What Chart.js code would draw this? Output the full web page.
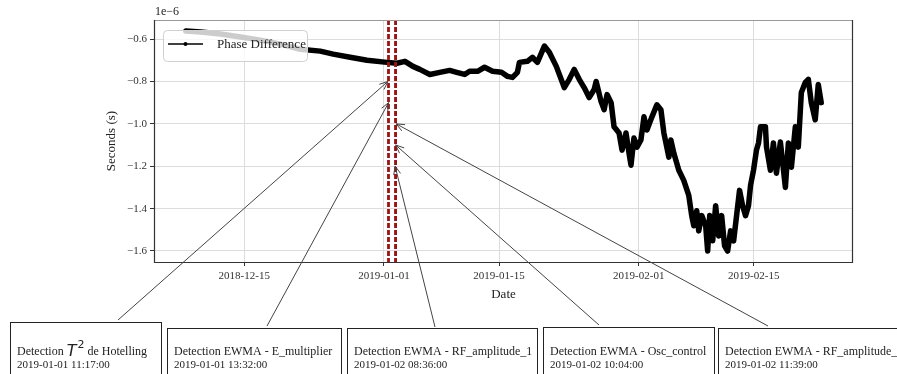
<!DOCTYPE html>
<html>
<head>
<meta charset="utf-8">
<script src="https://cdn.jsdelivr.net/npm/chart.js@4/dist/chart.umd.min.js"></script>
<style>
html, body { margin: 0; padding: 0; background: #fff; }
#wrap { width: 897px; height: 374px; }
</style>
</head>
<body>
<div id="wrap"><canvas id="myChart" width="897" height="374"></canvas></div>
<script>
// days relative to 2019-01-01 00:00 (UTC)
const dayOffsets = [
  -24.12, -22.30, -19.88, -17.45, -15.03, -12.61, -10.18, -7.76, -6.18, -4.12,
  -2.06, 0.36, 1.58, 2.55, 3.52, 4.36, 5.58, 6.79, 8.00, 8.85,
  9.82, 10.42, 11.39, 12.24, 13.21, 14.30, 15.03, 15.64, 16.24, 16.48,
  17.45, 18.06, 18.67, 19.52, 20.12, 20.97, 21.94, 22.55, 23.15, 23.76,
  24.36, 24.97, 25.58, 25.82, 26.42, 26.79, 27.15, 27.64, 28.00, 28.61,
  28.97, 29.45, 29.82, 30.06, 30.42, 30.79, 31.27, 31.64, 32.00, 32.61,
  33.21, 33.70, 34.06, 34.67, 34.91, 35.27, 35.88, 36.48, 37.09, 37.45,
  37.70, 38.06, 38.30, 38.67, 39.15, 39.39, 39.64, 40.00, 40.36, 40.73,
  41.09, 41.45, 41.82, 42.18, 42.55, 42.91, 43.27, 43.64, 44.00, 44.36,
  44.61, 44.97, 45.33, 45.58, 45.82, 46.42, 46.55, 47.03, 47.39, 47.76,
  48.24, 48.85, 49.21, 49.58, 50.06, 50.42, 50.79, 51.27, 51.64, 52.00,
  52.48, 52.85, 53.21
];

// phase difference, in units of 1e-6 s
const phaseDiff = [
  -0.562, -0.567, -0.576, -0.590, -0.605, -0.624, -0.648, -0.657, -0.671, -0.686,
  -0.700, -0.710, -0.714, -0.705, -0.729, -0.743, -0.767, -0.757, -0.748, -0.757,
  -0.767, -0.752, -0.752, -0.733, -0.752, -0.757, -0.776, -0.781, -0.757, -0.710,
  -0.705, -0.686, -0.710, -0.633, -0.662, -0.729, -0.829, -0.790, -0.743, -0.790,
  -0.829, -0.876, -0.838, -0.800, -0.895, -0.933, -0.862, -0.900, -1.014, -1.043,
  -1.124, -1.043, -1.138, -1.195, -1.067, -1.110, -1.076, -0.967, -1.029, -0.967,
  -0.910, -0.933, -1.043, -1.157, -1.076, -1.138, -1.219, -1.267, -1.338, -1.433,
  -1.481, -1.410, -1.505, -1.433, -1.481, -1.600, -1.433, -1.552, -1.386, -1.529,
  -1.433, -1.576, -1.600, -1.505, -1.552, -1.433, -1.314, -1.386, -1.433, -1.386,
  -1.290, -1.219, -1.124, -1.090, -1.014, -1.014, -1.110, -1.219, -1.090, -1.233,
  -1.086, -1.300, -1.090, -1.205, -1.014, -1.110, -0.852, -0.805, -0.790, -0.900,
  -0.981, -0.814, -0.900
];

const xTickLabels = ['2018-12-15', '2019-01-01', '2019-01-15', '2019-02-01', '2019-02-15'];
const yTickValues = [-1.6, -1.4, -1.2, -1.0, -0.8, -0.6];

const detectionNames = [
  'Hotelling',
  'Detection EWMA - E_multiplier',
  'Detection EWMA - RF_amplitude_1',
  'Detection EWMA - Osc_control',
  'Detection EWMA - RF_amplitude_2'
];
const detectionTimes = [
  '2019-01-01 11:17:00',
  '2019-01-01 13:32:00',
  '2019-01-02 08:36:00',
  '2019-01-02 10:04:00',
  '2019-01-02 11:39:00'
];
const arrowTargets = [-0.8, -0.9, -1.2, -1.1, -1.0];

// where the annotation boxes sit on the figure
const boxLayout = [
  { x: 10, y: 322, w: 151, tail: [118, 320] },
  { x: 167, y: 328, w: 174, tail: [267, 326] },
  { x: 347, y: 328, w: 190, tail: [435, 327] },
  { x: 543, y: 327, w: 171, tail: [599, 325] },
  { x: 718, y: 328, w: 200, tail: [768, 326] }
];

const FONT = '"Liberation Serif", serif';
Chart.defaults.font.family = FONT;
Chart.defaults.color = '#222';

const toMs = s => Date.parse(s.replace(' ', 'T') + 'Z');
const DAY = 86400000;
const base = toMs('2019-01-01 00:00:00');

const points = dayOffsets.map((d, i) => ({ x: base + d * DAY, y: phaseDiff[i] }));

// matplotlib style 5% margins
const xs = points.map(p => p.x), ys = phaseDiff;
const xPad = (Math.max(...xs) - Math.min(...xs)) * 0.05;
const yPad = (Math.max(...ys) - Math.min(...ys)) * 0.05;

const fmtMinus = v => (v < 0 ? '\u2212' : '') + Math.abs(v).toFixed(1);

function arrow(ctx, x0, y0, x1, y1) {
  ctx.beginPath();
  ctx.moveTo(x0, y0);
  ctx.lineTo(x1, y1);
  ctx.stroke();
  const ang = Math.atan2(y1 - y0, x1 - x0);
  const L = 9, spread = 0.4;
  ctx.beginPath();
  ctx.moveTo(x1 - L * Math.cos(ang - spread), y1 - L * Math.sin(ang - spread));
  ctx.lineTo(x1, y1);
  ctx.lineTo(x1 - L * Math.cos(ang + spread), y1 - L * Math.sin(ang + spread));
  ctx.stroke();
}

const overlay = {
  id: 'overlay',
  afterDatasetsDraw(chart) {
    const { ctx, chartArea: a, scales: { x } } = chart;
    ctx.save();

    // detection lines
    ctx.strokeStyle = '#a01212';
    ctx.lineWidth = 1.8;
    ctx.setLineDash([5, 2]);
    detectionTimes.forEach(t => {
      const px = Math.round(x.getPixelForValue(toMs(t)));
      ctx.beginPath();
      ctx.moveTo(px, a.top);
      ctx.lineTo(px, a.bottom);
      ctx.stroke();
    });
    ctx.setLineDash([]);

    // frame
    ctx.lineWidth = 1.2;
    ctx.strokeStyle = '#999';
    ctx.beginPath();
    ctx.moveTo(a.left, a.top + 0.5);
    ctx.lineTo(a.right, a.top + 0.5);
    ctx.stroke();
    ctx.strokeStyle = '#333';
    ctx.beginPath();
    ctx.moveTo(a.left + 0.5, a.top);
    ctx.lineTo(a.left + 0.5, a.bottom + 0.5);
    ctx.lineTo(a.right - 0.5, a.bottom + 0.5);
    ctx.lineTo(a.right - 0.5, a.top);
    ctx.stroke();

    // legend
    const lx = a.left + 9, ly = a.top + 10, lw = 144, lh = 31;
    ctx.fillStyle = 'rgba(255,255,255,0.8)';
    ctx.strokeStyle = '#d0d0d0';
    ctx.lineWidth = 1;
    ctx.beginPath();
    ctx.roundRect(lx + 0.5, ly + 0.5, lw, lh, 4);
    ctx.fill();
    ctx.stroke();
    ctx.strokeStyle = '#000';
    ctx.lineWidth = 1.5;
    ctx.beginPath();
    ctx.moveTo(lx + 5, ly + 14);
    ctx.lineTo(lx + 40, ly + 14);
    ctx.stroke();
    ctx.fillStyle = '#000';
    ctx.beginPath();
    ctx.arc(lx + 22.5, ly + 14, 2, 0, Math.PI * 2);
    ctx.fill();
    ctx.fillStyle = '#222';
    ctx.font = '13px ' + FONT;
    ctx.textBaseline = 'middle';
    ctx.fillText('Phase Difference', lx + 54, ly + 15);

    // offset text
    ctx.font = '12px ' + FONT;
    ctx.textBaseline = 'alphabetic';
    ctx.fillText('1e\u22126', a.left + 1, a.top - 5);
    ctx.restore();
  },
  afterDraw(chart) {
    const { ctx, scales: { x, y } } = chart;
    ctx.save();
    // annotation boxes
    boxLayout.forEach((b, i) => {
      ctx.fillStyle = '#fff';
      ctx.strokeStyle = '#222';
      ctx.lineWidth = 1;
      ctx.fillRect(b.x, b.y, b.w, 80);
      ctx.strokeRect(b.x + 0.5, b.y + 0.5, b.w, 80);
      ctx.fillStyle = '#222';
      ctx.textBaseline = 'alphabetic';
      let tx = b.x + 7;
      if (i === 0) {
        ctx.font = '12px ' + FONT;
        ctx.fillText('Detection ', tx, 355);
        tx += ctx.measureText('Detection ').width;
        ctx.font = 'italic 16px "DejaVu Sans"';
        ctx.fillText('T', tx, 356);
        tx += ctx.measureText('T').width + 1;
        ctx.font = '11px "DejaVu Sans"';
        ctx.fillText('2', tx, 348);
        tx += ctx.measureText('2').width;
        ctx.font = '12px ' + FONT;
        ctx.fillText(' de ' + detectionNames[0], tx, 355);
      } else {
        ctx.font = '12px ' + FONT;
        ctx.fillText(detectionNames[i], tx, 355);
      }
      ctx.font = '11px ' + FONT;
      ctx.fillText(detectionTimes[i], b.x + 7, 368);
    });
    // arrows
    ctx.strokeStyle = '#444';
    ctx.lineWidth = 1;
    boxLayout.forEach((b, i) => {
      const px = x.getPixelForValue(toMs(detectionTimes[i]));
      const py = y.getPixelForValue(arrowTargets[i]);
      arrow(ctx, b.tail[0], b.tail[1], px, py);
    });
    ctx.restore();
  }
};

new Chart('myChart', {
  type: 'line',
  data: {
    datasets: [{
      label: 'Phase Difference',
      data: points,
      borderColor: '#000',
      backgroundColor: '#000',
      borderWidth: 5.5,
      borderJoinStyle: 'round',
      borderCapStyle: 'round',
      pointRadius: 0,
      fill: false,
      tension: 0
    }]
  },
  options: {
    responsive: false,
    animation: false,
    devicePixelRatio: 1,
    layout: { padding: { left: 100, right: 44, top: 20, bottom: 68 } },
    plugins: { legend: { display: false }, tooltip: { enabled: false } },
    scales: {
      x: {
        type: 'linear',
        min: Math.min(...xs) - xPad,
        max: Math.max(...xs) + xPad,
        afterBuildTicks: s => { s.ticks = xTickLabels.map(l => ({ value: toMs(l + ' 00:00:00') })); },
        afterFit: s => { s.height = 44; },
        ticks: {
          autoSkip: false,
          maxRotation: 0,
          padding: 4,
          font: { size: 11 },
          color: '#333',
          callback: v => new Date(v).toISOString().slice(0, 10)
        },
        grid: { color: '#dcdcdc', tickColor: '#333', tickLength: 4 },
        border: { display: false },
        title: { display: true, text: 'Date', font: { size: 13 }, color: '#222', padding: { top: 2, bottom: 4 } }
      },
      y: {
        min: Math.min(...ys) - yPad,
        max: Math.max(...ys) + yPad,
        afterBuildTicks: s => { s.ticks = yTickValues.map(v => ({ value: v })); },
        afterFit: s => { s.width = 54; },
        ticks: {
          padding: 3,
          font: { size: 11 },
          color: '#333',
          callback: v => fmtMinus(v)
        },
        grid: { color: '#dcdcdc', tickColor: '#333', tickLength: 4 },
        border: { display: false },
        title: { display: true, text: 'Seconds (s)', font: { size: 13 }, color: '#222' }
      }
    }
  },
  plugins: [overlay]
});
</script>
</body>
</html>
